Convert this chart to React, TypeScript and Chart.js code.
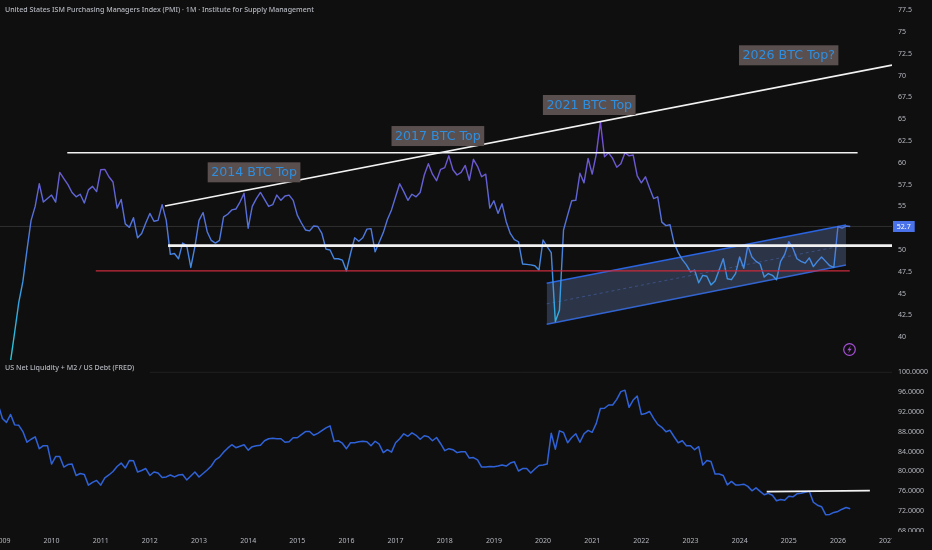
import React, { useEffect, useRef } from "react";
import { Chart, registerables } from "chart.js";

Chart.register(...registerables);

const pmiStart = 2009 + 2 / 12;
const pmiValues = [
  37.3, 40.6, 44.0, 46.4, 50.0, 53.4, 55.0, 57.6, 55.5, 55.9, 56.3, 55.5, 58.9, 58.2, 57.5, 56.6, 56.1, 56.4, 55.4, 56.9,
  57.3, 56.7, 59.2, 59.25, 58.4, 57.8, 54.8, 55.8, 53.0, 52.6, 53.7, 51.4, 51.9, 53.1, 54.2, 53.3, 53.4, 55.2, 53.4, 49.5,
  49.6, 49.0, 50.8, 50.5, 48.0, 50.4, 53.4, 54.3, 52.1, 51.1, 50.8, 51.1, 53.8, 54.1, 54.6, 54.7, 55.5, 56.5, 52.5, 55.0,
  55.9, 56.6, 55.8, 55.0, 55.2, 56.3, 55.7, 56.2, 56.3, 55.7, 54.0, 53.1, 52.3, 52.2, 52.75, 52.7, 51.9, 50.1, 50.0, 49.0,
  49.0, 48.85, 47.6, 49.6, 51.4, 51.0, 51.4, 52.4, 52.45, 49.8, 50.9, 52.0, 53.5, 54.6, 56.1, 57.6, 56.7, 55.7, 56.4, 56.1,
  56.6, 58.6, 59.9, 58.7, 57.95, 59.25, 59.45, 60.8, 59.2, 58.6, 58.9, 59.7, 58.0, 60.4, 59.6, 58.4, 58.7, 54.8, 55.65, 54.2,
  55.3, 53.25, 51.9, 51.2, 50.95, 48.4, 48.35, 48.3, 48.2, 47.7, 51.15, 50.4, 49.7, 41.8, 43.1, 52.3, 54.0, 55.65, 55.7, 58.8,
  57.7, 60.5, 58.7, 61.0, 64.7, 60.7, 61.15, 60.5, 59.5, 59.9, 61.15, 60.8, 60.9, 58.5, 57.7, 58.4, 57.1, 55.9, 56.1, 53.2,
  52.8, 52.9, 50.8, 49.7, 48.9, 48.3, 47.5, 47.7, 46.25, 47.1, 47.0, 46.0, 46.45, 47.7, 49.0, 46.7, 46.6, 47.3, 49.2, 47.9,
  50.5, 49.2, 48.7, 48.4, 46.9, 47.3, 47.1, 46.6, 48.7, 49.5, 50.95, 50.2, 49.0, 48.7, 48.5, 49.1, 48.1, 48.7, 49.2, 48.7,
  48.2, 48.0, 52.7, 52.5, 52.75, 52.7,
];

const liquidityStart = 2008 + 11 / 12;
const liquidityValues = [
  93.4, 90.7, 89.9, 91.5, 89.4, 89.3, 88.05, 85.9, 86.5, 87.0, 84.6, 85.2, 85.2, 81.5, 83.0, 83.0, 80.9, 81.4, 81.5, 79.2,
  79.6, 79.4, 77.25, 77.8, 78.2, 77.25, 78.7, 79.3, 80.0, 81.0, 81.7, 80.7, 82.2, 82.15, 79.9, 80.2, 80.6, 79.2, 79.9, 79.7,
  78.8, 78.9, 79.3, 78.9, 79.3, 79.4, 78.3, 79.1, 79.9, 78.9, 79.6, 80.3, 81.1, 82.35, 82.9, 83.9, 84.7, 85.4, 84.8, 85.1,
  85.4, 84.3, 85.0, 85.2, 85.3, 86.2, 86.6, 86.7, 86.6, 86.6, 85.9, 86.0, 86.8, 86.8, 87.45, 88.05, 88.05, 87.3, 87.7, 88.25,
  88.8, 89.2, 86.05, 86.2, 85.7, 84.6, 85.8, 85.8, 86.0, 86.1, 86.0, 85.2, 86.1, 85.5, 83.8, 84.4, 83.9, 85.8, 86.6, 87.6,
  87.1, 87.8, 87.3, 86.5, 87.2, 87.0, 86.2, 86.85, 85.6, 84.2, 84.6, 84.4, 83.8, 84.0, 84.0, 82.7, 82.8, 82.35, 80.9, 80.9,
  81.0, 80.95, 81.1, 81.3, 81.1, 81.7, 81.95, 80.1, 80.6, 80.6, 79.7, 80.5, 81.2, 81.3, 81.5, 87.7, 84.5, 88.2, 87.85, 85.8,
  86.85, 87.6, 85.9, 87.6, 88.3, 87.9, 89.7, 92.7, 92.75, 93.4, 93.4, 94.55, 96.1, 96.4, 92.95, 94.4, 95.2, 91.5, 91.7, 92.1,
  90.7, 89.5, 88.9, 88.0, 88.3, 87.0, 85.8, 86.2, 85.2, 85.2, 84.4, 85.0, 81.3, 82.2, 82.0, 79.5, 79.5, 79.2, 77.3, 78.0,
  77.3, 77.3, 77.45, 77.0, 76.1, 76.7, 76.0, 75.3, 75.6, 75.2, 74.1, 74.35, 74.2, 75.0, 74.9, 75.5, 75.6, 75.8, 76.0, 73.8,
  73.2, 72.9, 71.3, 71.35, 71.75, 71.95, 72.4, 72.75, 72.5,
];

const yearTicks = [2009, 2010, 2011, 2012, 2013, 2014, 2015, 2016, 2017, 2018, 2019, 2020, 2021, 2022, 2023, 2024, 2025, 2026, 2027];
const pmiTicks = [77.5, 75, 72.5, 70, 67.5, 65, 62.5, 60, 57.5, 55, 50, 47.5, 45, 42.5, 40];
const liquidityTicks = [100, 96, 92, 88, 84, 80, 76, 72, 68];

const lastPrice = 52.7;

const risingTrendYears = [2012.308, 2027.1];
const risingTrendValues = [55.05, 71.2];
const upperRangeYears = [2010.32, 2026.4];
const upperRangeValues = [61.16, 61.16];
const middleRangeYears = [2012.37, 2027.1];
const middleRangeValues = [50.5, 50.5];
const redRangeYears = [2010.9, 2026.24];
const redRangeValues = [47.6, 47.6];
const channelYears = [2020.074, 2026.164];
const channelUpper = [46.18, 52.87];
const channelLower = [41.48, 48.28];
const liquidityLevelYears = [2024.55, 2026.65];
const liquidityLevelValues = [75.95, 76.15];

const noteTexts = ["2014 BTC Top", "2017 BTC Top", "2021 BTC Top", "2026 BTC Top?"];
const noteYears = [2014.12, 2017.86, 2020.94, 2024.998];
const noteValues = [58.91, 63.07, 66.63, 72.33];

const pmiTitle = "United States ISM Purchasing Managers Index (PMI) · 1M · Institute for Supply Management";
const liquidityTitle = "US Net Liquidity + M2 / US Debt (FRED)";

const BG = "#0f0f0f";
const FONT = '"Noto Sans", sans-serif';

const monthly = (start: number, values: number[]) => values.map((y, i) => ({ x: start + i / 12, y }));
const pairs = (xs: number[], ys: number[]) => xs.map((x, i) => ({ x, y: ys[i] }));

const noPadding = (s: any) => {
  s.paddingLeft = 0;
  s.paddingRight = 0;
  s.paddingTop = 0;
  s.paddingBottom = 0;
};

const overlayPlugin = {
  id: "overlay",
  afterDatasetsDraw(chart: any) {
    const { ctx, scales } = chart;
    ctx.save();
    ctx.textBaseline = "middle";
    ctx.textAlign = "center";
    ctx.font = `12.6px "DejaVu Sans", sans-serif`;
    noteTexts.forEach((text, i) => {
      const cx = scales.x.getPixelForValue(noteYears[i]);
      const cy = scales.y.getPixelForValue(noteValues[i]);
      const w = ctx.measureText(text).width + 7;
      ctx.fillStyle = "#5a4f4f";
      ctx.fillRect(cx - w / 2, cy - 10, w, 20);
      ctx.fillStyle = "#2e8fe0";
      ctx.fillText(text, cx, cy + 0.5);
    });
    ctx.textAlign = "left";
    ctx.font = `500 7.05px ${FONT}`;
    ctx.fillStyle = "#b4b7bf";
    ctx.fillText(pmiTitle, 5, 10);
    ctx.fillText(liquidityTitle, 5, 368);
    // bolt badge
    ctx.strokeStyle = "#a64fd6";
    ctx.lineWidth = 1.2;
    ctx.beginPath();
    ctx.arc(849.5, 349.5, 5.8, 0, Math.PI * 2);
    ctx.stroke();
    ctx.fillStyle = "#a64fd6";
    ctx.beginPath();
    ctx.moveTo(851, 345.5);
    ctx.lineTo(847.3, 350.2);
    ctx.lineTo(849.5, 350.2);
    ctx.lineTo(848, 353.5);
    ctx.lineTo(851.7, 348.8);
    ctx.lineTo(849.5, 348.8);
    ctx.closePath();
    ctx.fill();
    ctx.restore();
  },
  afterDraw(chart: any) {
    const { ctx, scales } = chart;
    ctx.save();
    // price tag
    const y = scales.y.getPixelForValue(lastPrice);
    ctx.fillStyle = "#4a72ea";
    ctx.fillRect(893, y - 5.5, 21.7, 11);
    ctx.fillStyle = "#ffffff";
    ctx.font = `7px ${FONT}`;
    ctx.textAlign = "center";
    ctx.textBaseline = "middle";
    ctx.fillText(String(lastPrice), 903.8, y + 0.5);
    // the reference crops the last labels of the lower pane
    ctx.fillStyle = BG;
    ctx.fillRect(892, 532, 40, 18);
    ctx.restore();
  },
};

export default function App() {
  const ref = useRef<HTMLCanvasElement | null>(null);

  useEffect(() => {
    document.body.style.margin = "0";
    document.body.style.background = BG;
    const canvas = ref.current;
    if (!canvas) return;

    const line = (extra: any) => ({ pointRadius: 0, pointHoverRadius: 0, borderJoinStyle: "round", tension: 0, fill: false, ...extra });

    const pmiColor = (c: any) => {
      const chart = c.chart;
      const s = chart.scales.y;
      if (!chart.chartArea || !s) return "#4f73d8";
      const g = chart.ctx.createLinearGradient(0, s.getPixelForValue(66), 0, s.getPixelForValue(38));
      g.addColorStop(0, "#7b49dc");
      g.addColorStop(0.25, "#6a5ad2");
      g.addColorStop(0.55, "#4a7ee0");
      g.addColorStop(0.72, "#3a97e4");
      g.addColorStop(1, "#26c8d8");
      return g;
    };

    const chart = new Chart(canvas, {
      type: "line",
      data: {
        datasets: [
          line({ label: "Upper range", data: pairs(upperRangeYears, upperRangeValues), borderColor: "#f2f2f2", borderWidth: 1.6, yAxisID: "y" }),
          line({ label: "Mid range", data: pairs(middleRangeYears, middleRangeValues), borderColor: "#f2f2f2", borderWidth: 2.6, yAxisID: "y" }),
          line({ label: "Rising trend", data: pairs(risingTrendYears, risingTrendValues), borderColor: "#f2f2f2", borderWidth: 1.6, yAxisID: "y" }),
          line({ label: "Lower range", data: pairs(redRangeYears, redRangeValues), borderColor: "#c92a3c", borderWidth: 1.3, yAxisID: "y" }),
          line({ label: "PMI", data: monthly(pmiStart, pmiValues), borderColor: pmiColor, borderWidth: 1.4, yAxisID: "y" }),
          line({ label: "Channel upper", data: pairs(channelYears, channelUpper), borderColor: "#2b64e0", borderWidth: 1.5, yAxisID: "y", fill: "+1", backgroundColor: "rgba(84,104,150,0.42)" }),
          line({ label: "Channel lower", data: pairs(channelYears, channelLower), borderColor: "#2b64e0", borderWidth: 1.5, yAxisID: "y" }),
          line({ label: "Channel middle", data: pairs(channelYears, channelYears.map((_, i) => (channelUpper[i] + channelLower[i]) / 2)), borderColor: "rgba(70,110,220,0.5)", borderWidth: 1, borderDash: [3, 3], yAxisID: "y" }),
          line({ label: "Last", data: pairs([2008.9, 2027.2], [lastPrice, lastPrice]), borderColor: "rgba(255,255,255,0.13)", borderWidth: 1, yAxisID: "y" }),
          line({ label: "Liquidity level", data: pairs(liquidityLevelYears, liquidityLevelValues), borderColor: "#f2f2f2", borderWidth: 1.8, yAxisID: "y2" }),
          line({ label: "Liquidity", data: monthly(liquidityStart, liquidityValues), borderColor: "#2f62d8", borderWidth: 1.5, yAxisID: "y2" }),
          line({ label: "Top", data: pairs([2012, 2027.2], [100, 100]), borderColor: "rgba(255,255,255,0.07)", borderWidth: 1, yAxisID: "y2" }),
        ],
      },
      plugins: [overlayPlugin],
      options: {
        animation: false,
        responsive: false,
        devicePixelRatio: 1,
        layout: { padding: 0 },
        plugins: { legend: { display: false }, tooltip: { enabled: false }, title: { display: false } },
        scales: {
          x: {
            type: "linear",
            min: 2008.951,
            max: 2027.1,
            grid: { display: false, drawTicks: false },
            border: { display: false },
            afterBuildTicks(s: any) { s.ticks = yearTicks.map((value) => ({ value })); },
            afterFit(s: any) { s.height = 18; noPadding(s); },
            ticks: { autoSkip: false, maxRotation: 0, padding: 5, color: "#b4b7bf", font: { size: 7, family: FONT }, callback: (v: any) => String(v) },
          },
          y: {
            type: "linear",
            position: "right",
            stack: "panes",
            stackWeight: 360,
            min: 37.39,
            max: 78.67,
            grid: { display: false, drawTicks: false },
            border: { display: false },
            afterBuildTicks(s: any) { s.ticks = pmiTicks.map((value) => ({ value })); },
            afterFit(s: any) { s.width = 40; noPadding(s); },
            ticks: { autoSkip: false, padding: 6, color: "#b4b7bf", font: { size: 7, family: FONT }, callback: (v: any) => String(v) },
          },
          y2: {
            type: "linear",
            position: "right",
            stack: "panes",
            stackWeight: 172,
            min: 67.8,
            max: 102.48,
            grid: { display: false, drawTicks: false },
            border: { display: false },
            afterBuildTicks(s: any) { s.ticks = liquidityTicks.map((value) => ({ value })); },
            afterFit(s: any) { s.width = 40; noPadding(s); },
            ticks: { autoSkip: false, padding: 6, color: "#b4b7bf", font: { size: 7, family: FONT }, callback: (v: any) => Number(v).toFixed(4) },
          },
        },
      },
    } as any);

    return () => chart.destroy();
  }, []);

  return <canvas ref={ref} width={932} height={550} style={{ display: "block", width: 932, height: 550, background: BG }} />;
}
